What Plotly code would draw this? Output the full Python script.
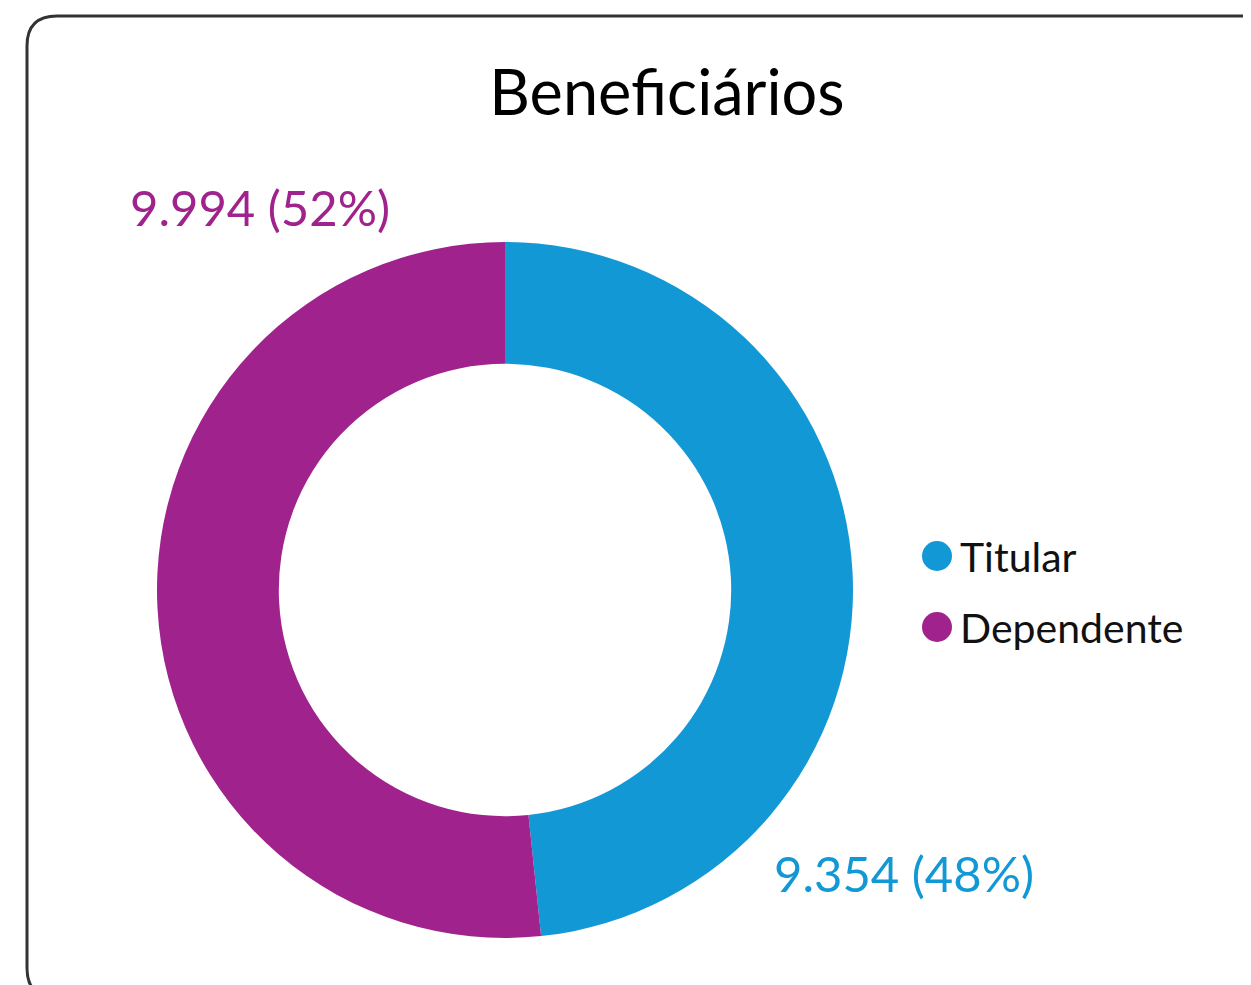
import plotly.graph_objects as go

# ─── Data ─────────────────────────────────────────────────────────────────────

categories = ['Titular', 'Dependente']
values = [9354, 9994]
colors = ['#1398D6', '#A0228C']
title_text = 'Beneficiários'

W, H = 1251, 985
OFF = 8  # page body margin
FONT = 'Lato, sans-serif'


def px(x):
    return (x - OFF) / W


def py(y):
    return 1 - (y - OFF) / H


def fmt(v):
    return f'{v:,}'.replace(',', '.')


total = sum(values)
labels_txt = [f'{fmt(v)} ({v / total * 100:.0f}%)' for v in values]

fig = go.Figure(go.Pie(
    labels=categories,
    values=values,
    hole=0.65,
    sort=False,
    direction='clockwise',
    rotation=0,
    marker=dict(colors=colors, line=dict(width=0)),
    textinfo='none',
    hoverinfo='label+value+percent',
    showlegend=False,
    domain=dict(x=[px(157), px(853)], y=[py(938), py(242)]),
))

# value labels
label_pos = [(904, 873), (260, 207)]
for txt, col, (lx, ly) in zip(labels_txt, colors, label_pos):
    fig.add_annotation(
        x=px(lx), y=py(ly), xref='paper', yref='paper',
        text=txt, showarrow=False, xanchor='center', yanchor='middle',
        font=dict(family=FONT, size=49, color=col),
    )

# legend (circle markers)
for i, (cat, col) in enumerate(zip(categories, colors)):
    cy = 556 + i * 71
    fig.add_shape(
        type='circle', xref='paper', yref='paper',
        x0=px(922), x1=px(952), y0=py(cy + 15), y1=py(cy - 15),
        fillcolor=col, line=dict(width=0),
    )
    fig.add_annotation(
        x=px(958), y=py(cy), xref='paper', yref='paper',
        text=cat, showarrow=False, xanchor='left', yanchor='middle',
        font=dict(family=FONT, size=41, color='#111111'),
    )

# card border
r = 30
l, t, b, rr = 27, 16, 998, 1290
path = (
    f'M {px(l)},{py(b - r)} L {px(l)},{py(t + r)} '
    f'Q {px(l)},{py(t)} {px(l + r)},{py(t)} '
    f'L {px(rr)},{py(t)} '
    f'M {px(l)},{py(b - r)} Q {px(l)},{py(b)} {px(l + r)},{py(b)}'
)
fig.add_shape(type='path', xref='paper', yref='paper', path=path,
              line=dict(color='#333333', width=3))

fig.update_layout(
    width=W, height=H,
    margin=dict(l=0, r=0, t=0, b=0),
    paper_bgcolor='white',
    plot_bgcolor='white',
    title=dict(text=title_text, x=px(667), y=py(93), xanchor='center',
               yanchor='middle', font=dict(family=FONT, size=63, color='#000000')),
    font=dict(family=FONT),
)

fig.write_html('out.html')
